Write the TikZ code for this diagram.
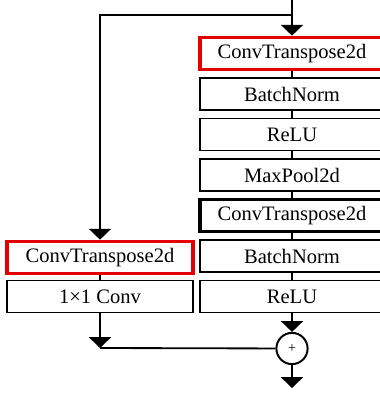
\documentclass[tikz,border=0pt]{standalone}
\usepackage{fontspec}
\setmainfont{Liberation Serif}
\usepackage{tikz}
\usetikzlibrary{arrows.meta, positioning, calc}
\definecolor{boxred}{RGB}{228, 0, 0}

\begin{document}
\begin{tikzpicture}[
			x=0.025cm, y=-0.025cm,
			box/.style={rectangle, draw=black, fill=white, line width=1.4pt,
				minimum width=4.6cm, minimum height=0.8cm, inner sep=0pt,
				font=\fontsize{14.6}{17}\selectfont},
			redbox/.style={box, draw=boxred, line width=2.6pt},
			boldbox/.style={box, line width=2.6pt},
			arr/.style={-{Triangle[width=0.55cm, length=0.27cm]}, line width=1.3pt},
			lin/.style={line width=1.3pt},
			plus/.style={circle, draw=black, line width=1.4pt, minimum size=0.78cm,
				inner sep=0pt, font=\fontsize{10}{12}\selectfont}
			]
			\clip (0,0) rectangle (380,394);
			\coordinate (input) at (292, 0);
			\coordinate (split) at (292, 15);

			\node[redbox]  (convt)   at (292, 53.5)  {ConvTranspose2d};
			\node[box]     (bn)      at (292, 94)    {BatchNorm};
			\node[box]     (relu)    at (292, 134.5) {ReLU};
			\node[box]     (pool)    at (292, 175)   {MaxPool2d};
			\node[boldbox] (convtb)  at (292, 215.5) {ConvTranspose2d};
			\node[box]     (bnb)     at (292, 256)   {BatchNorm};
			\node[box]     (relub)   at (292, 296.5) {ReLU};

			\node[redbox, minimum width=4.65cm] (sconvt) at (100, 257.5) {ConvTranspose2d};
			\node[box, minimum width=4.65cm]    (sconv)  at (100, 296.5) {1×1 Conv};

			\node[plus] (add) at (292, 348.5) {+};
			\coordinate (join)   at (100, 348);
			\coordinate (output) at (292, 388);

			\draw[arr] (input)  -- (convt);
			\draw[arr] (split)  -| (sconvt);
			\draw[lin] (convt)  -- (bn);
			\draw[lin] (bn)     -- (relu);
			\draw[lin] (relu)   -- (pool);
			\draw[lin] (pool)   -- (convtb);
			\draw[lin] (convtb) -- (bnb);
			\draw[lin] (bnb)    -- (relub);
			\draw[arr] (relub)  -- (add);
			\draw[lin] (sconvt) -- (sconv);
			\draw[arr] (sconv)  -- (join);
			\draw[lin] (join)   -- (add);
			\draw[arr] (add)    -- (output);
		\end{tikzpicture}
\end{document}
